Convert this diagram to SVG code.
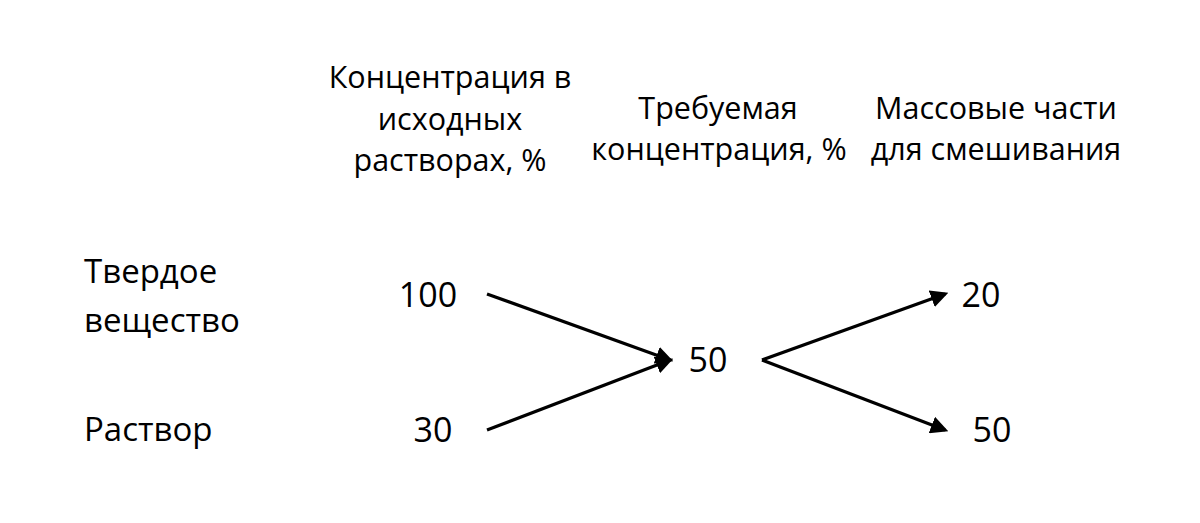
<svg xmlns="http://www.w3.org/2000/svg" width="1200" height="523" viewBox="0 0 1200 523">
<style>
text{font-family:"Open Sans","Noto Sans","DejaVu Sans",sans-serif;fill:#000}
.h{font-size:30.5px;text-anchor:middle}
.l{font-size:33px}
.n{font-size:34px;text-anchor:middle}
.c line{stroke:#000;stroke-width:3.2;marker-end:url(#ah)}
</style>
<defs>
<marker id="ah" viewBox="0 0 10 10" refX="8" refY="5" markerWidth="5.5" markerHeight="5.5" orient="auto" markerUnits="strokeWidth">
<path d="M0,0 L10,5 L0,10 z" fill="#000"/>
</marker>
</defs>
<rect width="1200" height="523" fill="#fff"/>
<g id="h1">
<text class="h" x="450" y="88">Концентрация в</text>
<text class="h" x="450" y="130">исходных</text>
<text class="h" x="450" y="171">растворах, %</text>
</g>
<g id="h2">
<text class="h" x="718" y="119">Требуемая</text>
<text class="h" x="719" y="160">концентрация, %</text>
</g>
<g id="h3">
<text class="h" x="996" y="119">Массовые части</text>
<text class="h" x="996" y="160">для смешивания</text>
</g>
<g id="solid"><text class="l" x="84" y="283">Твердое</text><text class="l" x="84" y="332">вещество</text></g>
<g id="solution"><text class="l" x="84" y="441">Раствор</text></g>
<g id="n100"><text class="n" x="428" y="307">100</text></g>
<g id="n30"><text class="n" x="433" y="442">30</text></g>
<g id="n50c"><text class="n" x="708" y="372">50</text></g>
<g id="n20"><text class="n" x="981" y="307">20</text></g>
<g id="n50r"><text class="n" x="992" y="442">50</text></g>
<g id="connectors" class="c">
<line x1="487" y1="294" x2="670" y2="360"/>
<line x1="487" y1="430" x2="670" y2="360"/>
<line x1="762" y1="360" x2="945" y2="294"/>
<line x1="762" y1="360" x2="945" y2="430"/>
</g>
</svg>
